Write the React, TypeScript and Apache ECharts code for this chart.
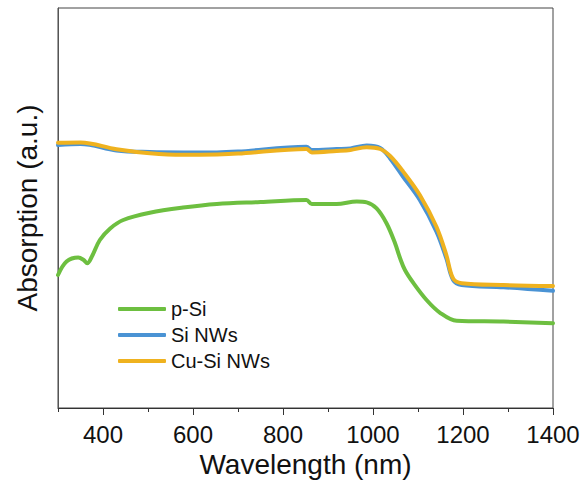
import React, { useEffect, useRef } from "react";
import * as echarts from "echarts";

const xTickLabels = [400, 600, 800, 1000, 1200, 1400];
const seriesNames = ["p-Si", "Si NWs", "Cu-Si NWs"];

const pSiX = [300, 319, 345, 357, 365, 375, 393, 416, 445, 504, 578, 653, 750, 852, 864, 919, 964, 986, 1008, 1030, 1049, 1060, 1071, 1090, 1119, 1149, 1186, 1290, 1400];
const pSiY = [33.25, 36.6, 37.6, 37.0, 36.2, 37.8, 42.0, 44.9, 47.0, 48.8, 50.1, 51.0, 51.5, 52.0, 51.0, 51.0, 51.6, 51.4, 49.9, 46.2, 41.2, 37.5, 34.5, 31.2, 27.0, 23.8, 21.8, 21.6, 21.2];

const siNWsX = [300, 350, 430, 504, 578, 653, 700, 852, 864, 919, 950, 986, 1016, 1038, 1067, 1104, 1141, 1163, 1178, 1197, 1290, 1400];
const siNWsY = [65.75, 66.0, 64.4, 64.0, 63.9, 63.9, 64.1, 65.3, 64.5, 64.75, 64.9, 65.6, 65.0, 62.4, 57.8, 52.0, 44.1, 37.4, 32.0, 30.75, 30.2, 29.3];

const cuSiNWsX = [300, 350, 430, 504, 578, 653, 700, 852, 864, 919, 950, 986, 1016, 1038, 1067, 1104, 1141, 1163, 1178, 1197, 1290, 1400];
const cuSiNWsY = [66.3, 66.4, 64.7, 63.7, 63.3, 63.4, 63.6, 64.75, 63.9, 64.25, 64.5, 65.2, 64.75, 63.0, 59.1, 53.25, 45.3, 38.25, 32.4, 31.2, 30.75, 30.5];

const colors = ["#6dbf40", "#4a93d4", "#efb21f"];

const zip = (xs: number[], ys: number[]) => xs.map((x, i) => [x, ys[i]]);

export default function App() {
  const ref = useRef<HTMLDivElement>(null);
  useEffect(() => {
    if (!ref.current) return;
    const chart = echarts.init(ref.current, undefined, { renderer: "svg" });
    const font = "Liberation Sans, Arial, sans-serif";
    const mkSeries = (name: string, data: number[][], color: string) => ({
      name,
      type: "line",
      data,
      xAxisIndex: 0,
      yAxisIndex: 0,
      showSymbol: false,
      symbol: "none",
      smooth: 0.35,
      lineStyle: { width: 4, color, cap: "round", join: "round" },
      itemStyle: { color },
    });
    chart.setOption({
      animation: false,
      backgroundColor: "#ffffff",
      grid: {
        left: 58,
        right: 32,
        top: 8,
        bottom: 80,
        containLabel: false,
        show: true,
        borderColor: "#444444",
        borderWidth: 1,
      },
      legend: {
        data: seriesNames,
        orient: "vertical",
        left: 113,
        top: 294,
        itemWidth: 48,
        itemHeight: 4,
        itemGap: 6,
        icon: "roundRect",
        textStyle: { fontFamily: font, fontSize: 20, color: "#111", lineHeight: 20 },
      },
      xAxis: [
        {
          type: "value",
          min: 300,
          max: 1400,
          interval: 100,
          position: "bottom",
          name: "Wavelength (nm)",
          nameLocation: "middle",
          nameGap: 36,
          nameTextStyle: { fontFamily: font, fontSize: 28, color: "#111" },
          axisLine: { show: true, onZero: false, lineStyle: { color: "#333", width: 1 } },
          axisTick: { show: true, length: 4, lineStyle: { color: "#333" } },
          axisLabel: {
            fontFamily: font,
            fontSize: 24,
            color: "#111",
            margin: 14,
            formatter: (v: number) => (xTickLabels.includes(v) ? String(v) : ""),
          },
          splitLine: { show: false },
        },
        {
          type: "value",
          min: 300,
          max: 1400,
          interval: 100,
          position: "bottom",
          axisLine: { show: false, onZero: false },
          axisTick: { show: true, length: 7, customValues: xTickLabels, lineStyle: { color: "#333" } },
          axisLabel: { show: false },
          splitLine: { show: false },
        },
      ],
      yAxis: {
        type: "value",
        min: 0,
        max: 100,
        name: "Absorption (a.u.)",
        nameLocation: "middle",
        nameGap: 17,
        nameTextStyle: { fontFamily: font, fontSize: 28, color: "#111" },
        axisLine: { show: true, onZero: false, lineStyle: { color: "#555", width: 1 } },
        axisTick: { show: false },
        axisLabel: { show: false },
        splitLine: { show: false },
      },
      series: [
        mkSeries(seriesNames[0], zip(pSiX, pSiY), colors[0]),
        mkSeries(seriesNames[1], zip(siNWsX, siNWsY), colors[1]),
        mkSeries(seriesNames[2], zip(cuSiNWsX, cuSiNWsY), colors[2]),
      ],
    });
    return () => chart.dispose();
  }, []);
  return (
    <div
      ref={ref}
      style={{ position: "fixed", left: 0, top: 0, width: 585, height: 488, background: "#fff" }}
    />
  );
}
